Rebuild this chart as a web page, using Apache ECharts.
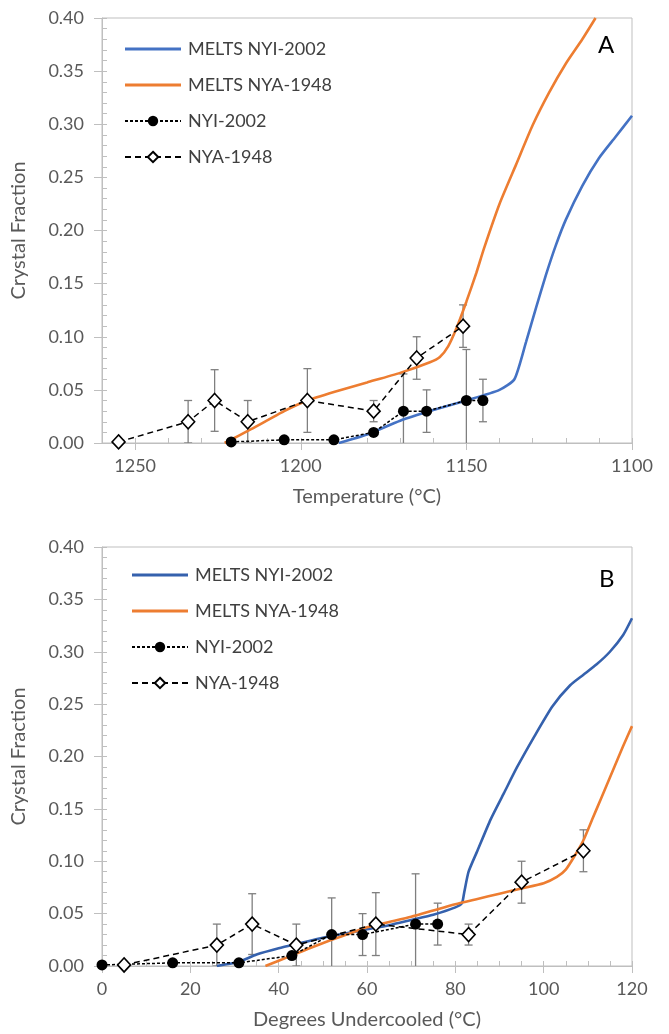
<!DOCTYPE html>
<html><head><meta charset="utf-8">
<script src="https://cdn.jsdelivr.net/npm/echarts@6/dist/echarts.min.js"></script>
<style>html,body{margin:0;padding:0;background:#fff}#c{width:669px;height:1034px}</style>
</head><body><div id="c"></div>
<script>
// ---- Panel A: Temperature (°C) ----
const tempNYI = [1221, 1205, 1190, 1178, 1169, 1162, 1150, 1145];
const tempNYA = [1255, 1234, 1226, 1216, 1198, 1178, 1165, 1151];
// ---- Panel B: Degrees undercooled (°C) ----
const undNYI = [0, 16, 31, 43, 52, 59, 71, 76];
const undNYA = [5, 26, 34, 44, 62, 83, 95, 109];
// ---- measured crystal fractions and error bars (shared by A and B) ----
const fracNYI = [0.001, 0.003, 0.003, 0.010, 0.030, 0.030, 0.040, 0.040];
const errNYI  = [0, 0, 0, 0, 0.035, 0.020, 0.048, 0.020];
const fracNYA = [0.001, 0.020, 0.040, 0.020, 0.040, 0.030, 0.080, 0.110];
const errNYA  = [0, 0.020, 0.029, 0.020, 0.030, 0.010, 0.020, 0.020];
// ---- MELTS model curves, panel A ----
const meltsA_NYI_T = [1188.5, 1180, 1170, 1160, 1150, 1140, 1135.5, 1132, 1129, 1126, 1123, 1120, 1115, 1110, 1105, 1100];
const meltsA_NYI_F = [0, 0.008, 0.021, 0.031, 0.040, 0.050, 0.060, 0.095, 0.127, 0.158, 0.186, 0.210, 0.242, 0.268, 0.288, 0.308];
const meltsA_NYA_T = [1223, 1215, 1205, 1198, 1190, 1180, 1170, 1161, 1158, 1155.5, 1153, 1150, 1147, 1144.7, 1140, 1135, 1130, 1125, 1120, 1115, 1111];
const meltsA_NYA_F = [0, 0.013, 0.030, 0.040, 0.048, 0.057, 0.066, 0.076, 0.081, 0.091, 0.108, 0.133, 0.160, 0.183, 0.225, 0.262, 0.299, 0.330, 0.357, 0.380, 0.400];
// ---- MELTS model curves, panel B ----
const meltsB_NYI_U = [26, 31, 35, 40, 45, 50, 55, 60, 65, 70, 75, 80, 81.5, 82, 83, 85, 88, 91, 94, 98, 102, 106, 109, 112, 115, 118, 120];
const meltsB_NYI_F = [0, 0.004, 0.011, 0.017, 0.022, 0.027, 0.031, 0.035, 0.039, 0.044, 0.049, 0.056, 0.060, 0.070, 0.090, 0.110, 0.140, 0.165, 0.190, 0.220, 0.248, 0.268, 0.278, 0.288, 0.300, 0.316, 0.332];
const meltsB_NYA_U = [37, 40, 43, 47, 52, 56, 60, 65, 70, 75, 80, 85, 90, 95, 100, 103, 105, 107, 109, 111, 113, 116, 118, 120];
const meltsB_NYA_F = [0, 0.005, 0.010, 0.017, 0.025, 0.031, 0.037, 0.042, 0.047, 0.053, 0.059, 0.064, 0.069, 0.074, 0.079, 0.085, 0.092, 0.105, 0.120, 0.140, 0.160, 0.190, 0.210, 0.229];
// ---- tick labels ----
const xTicksA = [1100, 1150, 1200, 1250];
const xTicksB = [0, 20, 40, 60, 80, 100, 120];
const yTicks = [0, 0.05, 0.10, 0.15, 0.20, 0.25, 0.30, 0.35, 0.40];
const names = ['MELTS NYI-2002', 'MELTS NYA-1948', 'NYI-2002', 'NYA-1948'];

const FONT = 'Lato, "Open Sans", sans-serif';
const AX = '#bfbfbf', TXT = '#595959';
const BLUE_A = '#4472c4', BLUE_B = '#3561ad', ORANGE = '#ed7d31';

const zip = (a, b) => a.map((v, i) => [v, b[i]]);
const errData = (xs, f, e) => xs.map((x, i) => [x, Math.max(0, f[i] - e[i]), f[i] + e[i], f[i] - e[i] < 0 ? 0 : 1, e[i] > 0 ? 1 : 0]);

function errRender(params, api) {
  if (!api.value(4)) return null;
  const x = api.value(0);
  const lo = api.coord([x, api.value(1)]);
  const hi = api.coord([x, api.value(2)]);
  const cw = 4;
  const st = {stroke: '#7f7f7f', lineWidth: 1.3};
  const ch = [
    {type: 'line', shape: {x1: hi[0], y1: hi[1], x2: lo[0], y2: lo[1]}, style: st},
    {type: 'line', shape: {x1: hi[0] - cw, y1: hi[1], x2: hi[0] + cw, y2: hi[1]}, style: st}
  ];
  if (api.value(3)) ch.push({type: 'line', shape: {x1: lo[0] - cw, y1: lo[1], x2: lo[0] + cw, y2: lo[1]}, style: st});
  return {type: 'group', children: ch};
}

function xAxes(g, min, max, major, minor, ticks, title, inverse) {
  return [
    {gridIndex: g, type: 'value', position: 'bottom', min, max, interval: major, inverse,
     name: title, nameLocation: 'middle', nameGap: 44,
     nameTextStyle: {fontSize: 20, color: TXT, fontFamily: FONT},
     axisLine: {lineStyle: {color: AX, width: 1}},
     axisTick: {show: true, inside: false, length: 7, lineStyle: {color: AX}, customValues: ticks},
     axisLabel: {fontSize: 18, color: TXT, fontFamily: FONT, margin: 14, customValues: ticks, formatter: v => String(v)},
     splitLine: {show: false}},
    {gridIndex: g, type: 'value', position: 'bottom', min, max, interval: minor, inverse,
     axisLine: {show: false}, axisLabel: {show: false}, splitLine: {show: false},
     axisTick: {show: true, inside: true, length: 5, lineStyle: {color: AX}}}
  ];
}
function yAxes(g) {
  return [
    {gridIndex: g, type: 'value', position: 'left', min: 0, max: 0.4, interval: 0.05,
     name: 'Crystal Fraction', nameLocation: 'middle', nameGap: 73,
     nameTextStyle: {fontSize: 20, color: TXT, fontFamily: FONT},
     axisLine: {show: true, lineStyle: {color: AX, width: 1}},
     axisTick: {show: true, inside: false, length: 8, lineStyle: {color: AX}},
     axisLabel: {fontSize: 18, color: TXT, fontFamily: FONT, margin: 18, formatter: v => v.toFixed(2), customValues: yTicks},
     splitLine: {show: false}},
    {gridIndex: g, type: 'value', position: 'left', min: 0, max: 0.4, interval: 0.01,
     axisLine: {show: false}, axisLabel: {show: false}, splitLine: {show: false},
     axisTick: {show: true, inside: true, length: 5, lineStyle: {color: AX}}}
  ];
}

function panelSeries(g, blue, nyiB, nyiF, nyaB, nyaF, xNYI, xNYA) {
  const xi = g * 2, yi = g * 2;
  return [
    {type: 'custom', name: 'errNYA' + g, xAxisIndex: xi, yAxisIndex: yi, renderItem: errRender, clip: true, z: 1,
     data: errData(xNYA, fracNYA, errNYA), encode: {x: 0, y: [1, 2]}, silent: true},
    {type: 'custom', name: 'errNYI' + g, xAxisIndex: xi, yAxisIndex: yi, renderItem: errRender, clip: true, z: 1,
     data: errData(xNYI, fracNYI, errNYI), encode: {x: 0, y: [1, 2]}, silent: true},
    {type: 'line', name: names[0], xAxisIndex: xi, yAxisIndex: yi, data: zip(nyiB, nyiF), showSymbol: false, symbol: 'none',
     smooth: 0.2, lineStyle: {color: blue, width: 2.6}, itemStyle: {color: blue}, z: 2, clip: true},
    {type: 'line', name: names[1], xAxisIndex: xi, yAxisIndex: yi, data: zip(nyaB, nyaF), showSymbol: false, symbol: 'none',
     smooth: 0.2, lineStyle: {color: ORANGE, width: 2.6}, itemStyle: {color: ORANGE}, z: 2, clip: true},
    {type: 'line', name: names[2], xAxisIndex: xi, yAxisIndex: yi, data: zip(xNYI, fracNYI), symbol: 'circle', symbolSize: 11,
     lineStyle: {color: '#000', width: 1.5, type: [3, 2]}, itemStyle: {color: '#000', borderColor: '#000', borderWidth: 0}, z: 3},
    {type: 'line', name: names[3], xAxisIndex: xi, yAxisIndex: yi, data: zip(xNYA, fracNYA), symbol: 'diamond', symbolSize: [13, 14],
     lineStyle: {color: '#000', width: 1.5, type: [6, 4]}, itemStyle: {color: '#fff', borderColor: '#000', borderWidth: 1.6}, z: 3}
  ];
}

const LINE_ICON = 'path://M0,0 L56,0 L56,3 L0,3 Z';
function legend(g, top, left, blue) {
  return {
    orient: 'vertical', left, top, itemWidth: 56, itemHeight: 13, itemGap: 18,
    textStyle: {fontSize: 18, color: '#404040', fontFamily: FONT, padding: [0, 0, 0, 2]},
    backgroundColor: '#fff',
    data: [
      {name: names[0], icon: LINE_ICON, itemStyle: {color: blue, borderWidth: 0}, lineStyle: {width: 0, opacity: 0}},
      {name: names[1], icon: LINE_ICON, itemStyle: {color: ORANGE, borderWidth: 0}, lineStyle: {width: 0, opacity: 0}},
      {name: names[2]},
      {name: names[3]}
    ],
    selectedMode: false
  };
}

const chart = echarts.init(document.getElementById('c'), null, {renderer: 'canvas'});
chart.setOption({
  animation: false,
  backgroundColor: '#fff',
  grid: [
    {left: 102, top: 18, width: 530, height: 425, show: true, borderColor: AX, borderWidth: 1, backgroundColor: 'transparent'},
    {left: 102, top: 547, width: 530, height: 419, show: true, borderColor: AX, borderWidth: 1, backgroundColor: 'transparent'}
  ],
  xAxis: [...xAxes(0, 1100, 1260, 50, 10, xTicksA, 'Temperature (°C)', true),
          ...xAxes(1, 0, 120, 20, 5, xTicksB, 'Degrees Undercooled (°C)', false)],
  yAxis: [...yAxes(0), ...yAxes(1)],
  legend: [legend(0, 35, 119, BLUE_A), legend(1, 561, 126, BLUE_B)],
  graphic: [
    {type: 'text', left: 598, top: 33, style: {text: 'A', fontSize: 24, fill: '#000', fontFamily: FONT}},
    {type: 'text', left: 595, top: 565, style: {text: 'B', fontSize: 24, fill: '#000', fontFamily: FONT, backgroundColor: '#fff', padding: [2, 4]}}
  ],
  series: [
    ...panelSeries(0, BLUE_A, meltsA_NYI_T, meltsA_NYI_F, meltsA_NYA_T, meltsA_NYA_F, tempNYI, tempNYA),
    ...panelSeries(1, BLUE_B, meltsB_NYI_U, meltsB_NYI_F, meltsB_NYA_U, meltsB_NYA_F, undNYI, undNYA)
  ]
});
</script></body></html>
